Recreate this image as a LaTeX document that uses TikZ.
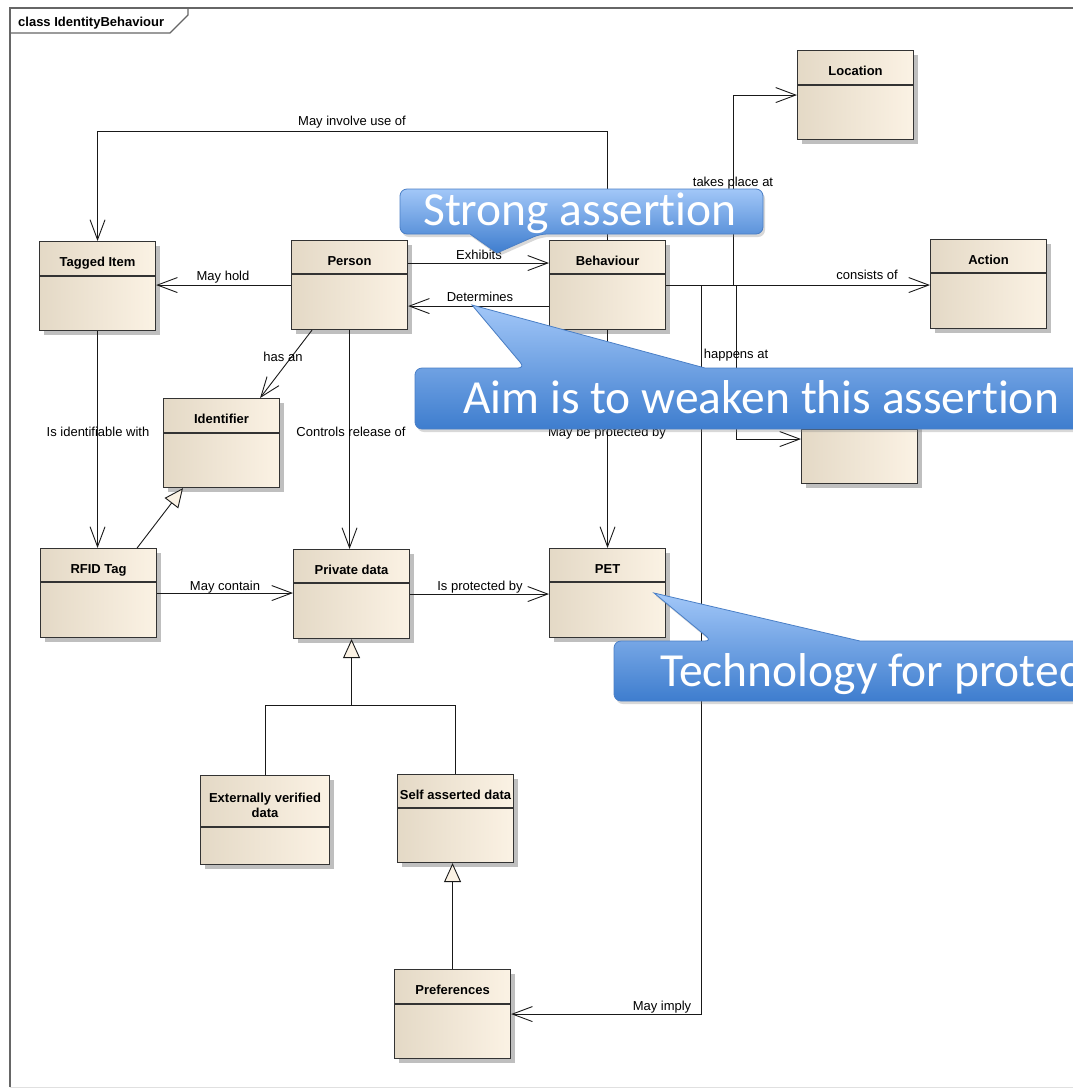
\documentclass[tikz,border=0pt]{standalone}
\usepackage{fontspec}
\setmainfont{Liberation Sans}
\newfontfamily\calloutfont[Ligatures={NoCommon,NoContextual}]{Carlito}
\usetikzlibrary{arrows.meta,shadows,calc}

\definecolor{clsL}{HTML}{E4D9C6}
\definecolor{clsM}{HTML}{F6ECDD}
\definecolor{clsR}{HTML}{FBF2E4}
\definecolor{cTop}{HTML}{A2C7F8}
\definecolor{cBot}{HTML}{3E7DCE}
\definecolor{cEdge}{HTML}{4A7FC6}

\tikzset{
  classbox/.style={draw=black!80, line width=1.1pt, left color=clsL, middle color=clsM, right color=clsR,
    inner sep=0pt, drop shadow={shadow xshift=4pt, shadow yshift=-4pt, fill=black!25, opacity=1}},
  classline/.style={draw=black!80, line width=1.1pt},
  classname/.style={font=\bfseries\fontsize{13}{15}\selectfont, inner sep=0pt, anchor=base, align=center},
  lbl/.style={font=\fontsize{13}{15}\selectfont, inner sep=0pt, anchor=base},
  link/.style={draw=black!90, line width=0.9pt},
  assoc/.style={link, -{Straight Barb[length=20pt,width=15pt]}},
  gen/.style={link, -{Triangle[length=19pt,width=17pt,fill=clsR]}},
  frameline/.style={draw=black!60, line width=1.3pt},
  callout/.style={top color=cTop, bottom color=cBot, draw=cEdge, line width=0.8pt,
    drop shadow={shadow xshift=2pt, shadow yshift=-3pt, opacity=0.3}},
  callouttext/.style={font=\calloutfont\fontsize{47.5}{56}\selectfont, text=white, inner sep=0pt, anchor=base west}
}

% \umlclass{name}{left}{top}{width}{height}{header height}{title}
\newcommand\umlclass[7]{%
  \node[classbox, minimum width=#4pt, minimum height=#5pt, anchor=north west] (#1) at (#2,#3) {};
  \draw[classline] ([yshift=-#6pt]#1.north west) -- ([yshift=-#6pt]#1.north east);
  \node[classname] (#1-name) at ([yshift=-25pt]#1.north) {#7};
}

\begin{document}
\begin{tikzpicture}[x=1pt,y=-1pt]
\useasboundingbox (0,0) rectangle (1073,1088);
\clip (0,0) rectangle (1073,1088);
\fill[white] (0,0) rectangle (1073,1088);

% diagram frame and its name tab
\draw[black!12, line width=0.8pt] (10,1087) -- (1073,1087);
\draw[frameline] (10,1087) -- (10,8) -- (1090,8);
\draw[frameline] (10,33) -- (170,33) -- (188,15) -- (188,8);
\node[font=\bfseries\fontsize{13}{15}\selectfont, inner sep=0pt, anchor=base west] (title) at (18,26) {class IdentityBehaviour};

% classes
\umlclass{Location}{797}{50}{116}{89}{35}{Location}
\umlclass{Tagged}{39}{241}{116}{89}{35}{Tagged Item}
\umlclass{Person}{291}{240}{116}{89}{34}{Person}
\umlclass{Behaviour}{549}{240}{116}{89}{34}{Behaviour}
\umlclass{Action}{930}{239}{116}{89}{34}{Action}
\umlclass{Identifier}{163}{398}{116}{89}{35}{Identifier}
\umlclass{place}{801}{394}{116}{89}{35}{}
\umlclass{RFID}{40}{548}{116}{89}{34}{RFID Tag}
\umlclass{PrivData}{293}{549}{116}{89}{34}{Private data}
\umlclass{PET}{549}{548}{116}{89}{34}{PET}
\umlclass{ExtVer}{200}{775}{129}{89}{52}{}
\node[classname] (ExtVer-name) at ([yshift=-27pt]ExtVer.north) {Externally verified};
\node[classname] (ExtVer-name2) at ([yshift=-42pt]ExtVer.north) {data};
\umlclass{SelfAss}{397}{774}{116}{88}{34}{Self asserted data}
\umlclass{Prefs}{394}{969}{116}{89}{35}{Preferences}

% associations leaving Behaviour
\draw[assoc] (Behaviour.north) -- ++(0,-109) -| (Tagged.north);
\node[lbl] (lInvolve) at (352,125) {May involve use of};
\draw[assoc] (Behaviour.east) -| ($(Location.west)+(-64,0)$) -- (Location.west);
\node[lbl] (lTakes) at (733,186) {takes place at};
\draw[assoc] (Behaviour.east) -- (Behaviour.east -| Action.west);
\node[lbl] (lConsists) at (867,279) {consists of};
\draw[assoc] (Behaviour.east) -| ($(place.west)+(-65,0)$) -- (place.west);
\node[lbl] (lHappens) at (736,358) {happens at};
\draw[assoc] (Behaviour.east) -| ($(Prefs.east)+(190,0)$) -- (Prefs.east);
\node[lbl] (lImply) at (662,1010) {May imply};
\draw[assoc] (Behaviour.south) -- (Behaviour.south |- PET.north);
\node[lbl] (lMayProt) at (607,436) {May be protected by};

% Person and Behaviour
\coordinate (exS) at ([yshift=22pt]Person.east);
\draw[assoc] (exS) -- (exS -| Behaviour.west);
\node[lbl] (lExhibits) at (479,259) {Exhibits};
\coordinate (deS) at ([yshift=-21pt]Behaviour.west);
\draw[assoc] (deS) -- (deS -| Person.east);
\node[lbl] (lDetermines) at (480,301) {Determines};

% associations leaving Person
\draw[assoc] (Person.west) -- (Person.west -| Tagged.east);
\node[lbl] (lHold) at (223,280) {May hold};
\draw[assoc] ([xshift=21pt]Person.south west) -- ([xshift=-20pt]Identifier.north east);
\node[lbl] (lHasAn) at (283,361) {has an};
\draw[assoc] (Person.south) -- (Person.south |- PrivData.north);
\node[lbl] (lControls) at (351,436) {Controls release of};

% Tagged Item, RFID Tag and Private data
\draw[assoc] (Tagged.south) -- (Tagged.south |- RFID.north);
\node[lbl] (lIdent) at (98,436) {Is identifiable with};
\draw[gen] ([xshift=-20pt]RFID.north east) -- ([xshift=20pt]Identifier.south west);
\draw[assoc] (RFID.east) -- (RFID.east -| PrivData.west);
\node[lbl] (lContain) at (225,590) {May contain};
\draw[assoc] (PrivData.east) -- (PrivData.east -| PET.west);
\node[lbl] (lProtected) at (480,590) {Is protected by};

% specialisations of Private data
\coordinate (gj) at ($(PrivData.south)+(0,66)$);
\draw[gen] (ExtVer.north) |- (gj) -- (PrivData.south);
\draw[link] (SelfAss.north) |- (gj);
\draw[gen] (Prefs.north) -- (Prefs.north |- SelfAss.south);

% callouts
\path[callout] (400,211) [rounded corners=7pt] -- (400,189) -- (763,189) -- (763,234) -- (540,234)
  [sharp corners] -- (497,253) -- (470,234) [rounded corners=7pt] -- (400,234) -- cycle;
\node[callouttext] (strongTxt) at (423,225) {Strong assertion};

\path[callout] (415,398) [rounded corners=7pt] -- (415,368) -- (525,368)
  [sharp corners] -- (472,305) -- (705,368) [rounded corners=7pt] -- (1095,368) -- (1095,429) -- (415,429) -- cycle;
\node[callouttext] (aimTxt) at (463,413) {Aim is to weaken this assertion};

\path[callout] (614,670) [rounded corners=7pt] -- (614,641) -- (712,641)
  [sharp corners] -- (654,593) -- (860,641) [rounded corners=7pt] -- (1095,641) -- (1095,701) -- (614,701) -- cycle;
\node[callouttext] (techTxt) at (660,686) {Technology for protec};
\end{tikzpicture}
\end{document}
